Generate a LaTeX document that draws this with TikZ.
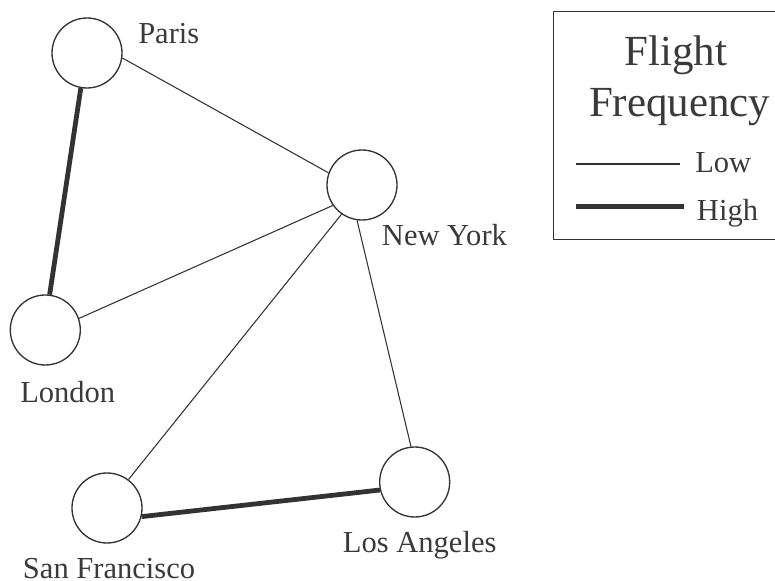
\documentclass[tikz,border=0pt]{standalone}
\usepackage{fontspec}
\setmainfont{Liberation Serif}
\definecolor{ink}{HTML}{333333}
\definecolor{txt}{HTML}{3A3A3A}
\begin{document}
\begin{tikzpicture}[x=0.75pt,y=-0.75pt,
  city/.style={circle,draw=ink,line width=1pt,minimum size=52.5pt,inner sep=0pt},
  lbl/.style={anchor=base west,inner sep=0pt,text=txt,font=\fontsize{22.9}{27}\selectfont},
  ttl/.style={anchor=base,inner sep=0pt,text=txt,font=\fontsize{32.2}{38}\selectfont},
  low/.style={draw=ink,line width=0.8pt},
  high/.style={draw=ink,line width=3.6pt}]
\useasboundingbox (0,0) rectangle (775,581);
% cities
\node[city] (paris) at (87,53) {};
\node[city] (ny) at (362,185) {};
\node[city] (london) at (45.3,330) {};
\node[city] (sf) at (107,508) {};
\node[city] (la) at (414.7,482) {};
% labels
\node[lbl] (lparis) at (138,44) {Paris};
\node[lbl] (lny) at (381.7,245) {New York};
\node[lbl] (llondon) at (20,402.3) {London};
\node[lbl] (lsf) at (22.7,578) {San Francisco};
\node[lbl] (lla) at (342.7,552.7) {Los Angeles};
% connections
\draw[low] (paris.-8) -- (ny.160.3);
\draw[high] (paris.-100) -- (london.83.5);
\draw[low] (london.19) -- (ny.215.6);
\draw[low] (ny.235.9) -- (sf.53.4);
\draw[low] (ny.262.9) -- (la.96);
\draw[high] (sf.-14.4) -- (la.193.4);
% legend
\draw[ink,line width=0.9pt] (790,11.7) -- (553.3,11.7) -- (553.3,239.3) -- (790,239.3);
\node[ttl] (tflight) at (676,66) {Flight};
\node[ttl] (tfreq) at (679.7,116.7) {Frequency};
\coordinate (lowa) at (576,164);
\coordinate (lowb) at (680,164);
\coordinate (higha) at (576,206.7);
\coordinate (highb) at (684,206.7);
\draw[low] (lowa) -- (lowb);
\draw[high] (higha) -- (highb);
\node[lbl] (tlow) at (695,173) {Low};
\node[lbl] (thigh) at (696.7,220) {High};
\end{tikzpicture}
\end{document}
